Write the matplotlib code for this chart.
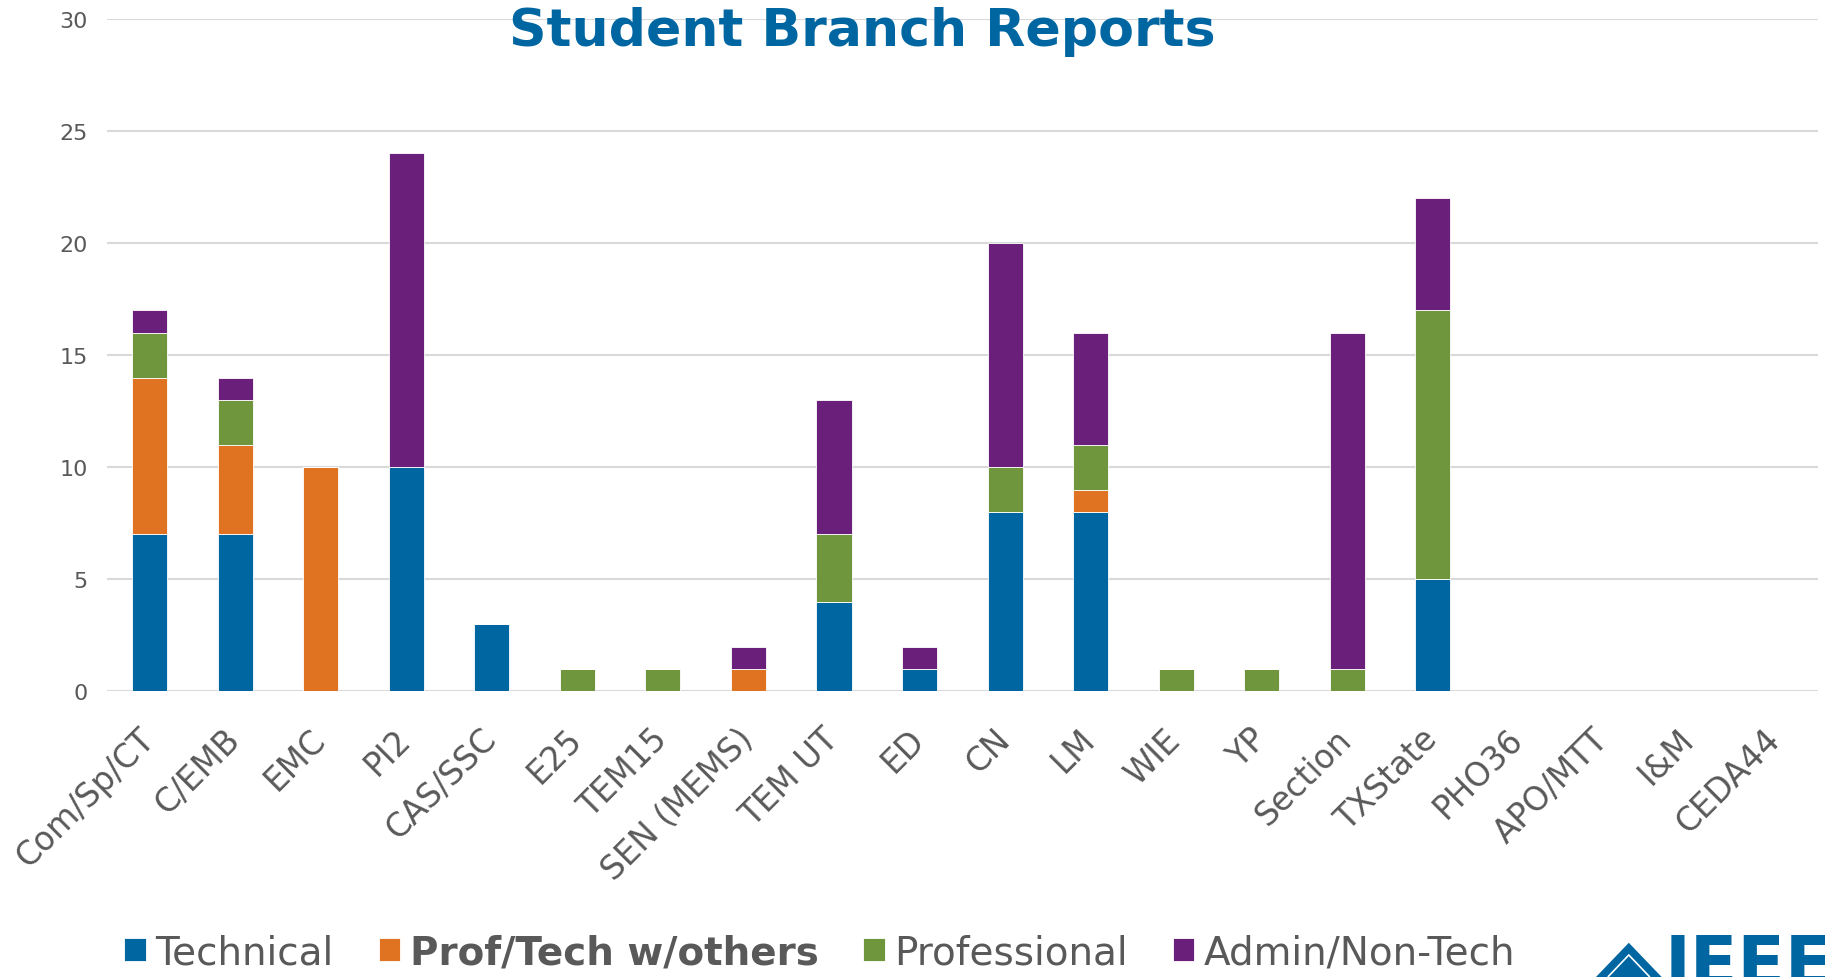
import matplotlib

matplotlib.use("Agg")

import matplotlib.pyplot as plt
import matplotlib.transforms as mtransforms
import numpy as np
from matplotlib.patches import Polygon

branches = ["Com/Sp/CT", "C/EMB", "EMC", "PI2", "CAS/SSC", "E25", "TEM15",
            "SEN (MEMS)", "TEM UT", "ED", "CN", "LM", "WIE", "YP", "Section",
            "TXState", "PHO36", "APO/MTT", "I&M", "CEDA44"]
technical = [7, 7, 0, 10, 3, 0, 0, 0, 4, 1, 8, 8, 0, 0, 0, 5, 0, 0, 0, 0]
prof_tech = [7, 4, 10, 0, 0, 0, 0, 1, 0, 0, 0, 1, 0, 0, 0, 0, 0, 0, 0, 0]
professional = [2, 2, 0, 0, 0, 1, 1, 0, 3, 0, 2, 2, 1, 1, 1, 12, 0, 0, 0, 0]
admin = [1, 1, 0, 14, 0, 0, 0, 1, 6, 1, 10, 5, 0, 0, 15, 5, 0, 0, 0, 0]

series = [
    ("Technical", technical, "#0066A1"),
    ("Prof/Tech w/others", prof_tech, "#E07322"),
    ("Professional", professional, "#70963D"),
    ("Admin/Non-Tech", admin, "#6A1F7A"),
]

text_gray = "#595959"
ieee_blue = "#0066A1"

fig = plt.figure(figsize=(18.25, 9.78), dpi=100)
ax = fig.add_axes([0.0586, 0.292, 0.9374, 0.6877])

x = np.arange(len(branches))
bottom = np.zeros(len(branches))
handles = []
for name, vals, color in series:
    vals = np.array(vals, dtype=float)
    b = ax.bar(x, vals, width=0.41, bottom=bottom, color=color,
               edgecolor="white", linewidth=0.6, label=name, zorder=3)
    handles.append(b)
    bottom += vals

ax.set_xlim(-0.5, len(branches) - 0.5)
ax.set_ylim(0, 30)
ax.set_yticks([0, 5, 10, 15, 20, 25, 30])
ax.yaxis.grid(True, color="#D9D9D9", linewidth=1.5, zorder=0)
ax.set_axisbelow(True)
for s in ax.spines.values():
    s.set_visible(False)
ax.tick_params(axis="y", length=0, pad=14, labelsize=16, labelcolor=text_gray)
ax.tick_params(axis="x", length=0, pad=22)
ax.set_xticks(x)
ax.set_xticklabels(branches, rotation=45, ha="right", rotation_mode="anchor",
                   fontsize=23.5, color=text_gray)
shift = mtransforms.ScaledTranslation(-0.12, 0, fig.dpi_scale_trans)
for lbl in ax.get_xticklabels():
    lbl.set_transform(lbl.get_transform() + shift)

fig.text(0.4725, 0.967, "Student Branch Reports", ha="center", va="center",
         fontsize=37.5, fontweight="bold", color=ieee_blue)

leg = fig.legend(handles=handles, labels=[s[0] for s in series],
                 loc="lower left", bbox_to_anchor=(0.049, -0.03), ncol=4,
                 frameon=False, fontsize=28, handlelength=0.55,
                 handleheight=0.55, handletextpad=0.25, columnspacing=1.15,
                 labelcolor=text_gray)
leg.get_texts()[1].set_fontweight("bold")

# IEEE logo (cropped at the bottom edge)
diamond = Polygon([[0.8745, 0.0], [0.8925, 0.035], [0.9105, 0.0]],
                  closed=True, transform=fig.transFigure,
                  facecolor=ieee_blue, edgecolor="none")
fig.patches.append(diamond)
inner = Polygon([[0.881, 0.0], [0.8925, 0.0225], [0.904, 0.0]],
                closed=False, transform=fig.transFigure,
                facecolor="none", edgecolor="white", linewidth=1.2)
fig.patches.append(inner)
fig.text(0.912, -0.022, "IEEE", ha="left", va="bottom", fontsize=50,
         fontweight="bold", color=ieee_blue)

fig.savefig("out.png", dpi=100)
plt.close(fig)
